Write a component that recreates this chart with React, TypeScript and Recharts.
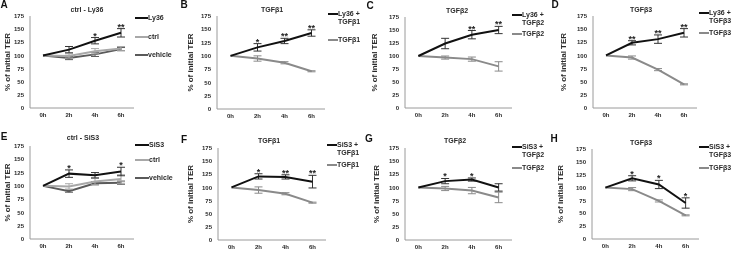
import React from 'react';
import { LineChart, Line, XAxis, YAxis, ErrorBar, LabelList } from 'recharts';

// ---------- data ----------
const timeLabels = ['0h', '2h', '4h', '6h'];
const yTicks = [0, 25, 50, 75, 100, 125, 150, 175];

// A: ctrl - Ly36
const aLy36 = [100, 111, 128, 143];
const aLy36Err = [null, 6, 6, 8];
const aLy36Sig = ['', '', '*', '**'];
const aCtrl = [100, 99, 108, 113];
const aCtrlErr = [null, 4, 5, 4];
const aVehicle = [100, 95, 102, 112];
const aVehicleErr = [null, 3, 4, 3];

// B: TGFβ1 (Ly36)
const bLy36T1 = [100, 116, 128, 143];
const bLy36T1Err = [null, 7, 5, 6];
const bLy36T1Sig = ['', '*', '**', '**'];
const bT1 = [100, 95, 87, 71];
const bT1Err = [null, 5, 2, 1];

// C: TGFβ2 (Ly36)
const cLy36T2 = [100, 124, 141, 150];
const cLy36T2Err = [null, 10, 8, 7];
const cLy36T2Sig = ['', '', '**', '**'];
const cT2 = [100, 97, 94, 80];
const cT2Err = [null, 3, 4, 9];

// D: TGFβ3 (Ly36)
const dLy36T3 = [100, 124, 131, 143];
const dLy36T3Err = [null, 4, 8, 8];
const dLy36T3Sig = ['', '**', '**', '**'];
const dT3 = [100, 96, 73, 45];
const dT3Err = [null, 3, 2, 1];

// E: ctrl - SiS3
const eSiS3 = [100, 123, 120, 127];
const eSiS3Err = [null, 7, 5, 8];
const eSiS3Sig = ['', '*', '', '*'];
const eCtrl = [100, 99, 108, 113];
const eCtrlErr = [null, 5, 6, 8];
const eVehicle = [100, 90, 105, 106];
const eVehicleErr = [null, 2, 3, 3];

// F: TGFβ1 (SiS3)
const fSiS3T1 = [100, 121, 120, 111];
const fSiS3T1Err = [null, 5, 4, 12];
const fSiS3T1Sig = ['', '*', '**', '**'];
const fT1 = [100, 95, 88, 71];
const fT1Err = [null, 6, 2, 1];

// G: TGFβ2 (SiS3)
const gSiS3T2 = [100, 112, 115, 100];
const gSiS3T2Err = [null, 5, 3, 7];
const gSiS3T2Sig = ['', '*', '*', ''];
const gT2 = [100, 98, 94, 81];
const gT2Err = [null, 4, 6, 10];

// H: TGFβ3 (SiS3)
const hSiS3T3 = [100, 118, 106, 70];
const hSiS3T3Err = [null, 5, 8, 10];
const hSiS3T3Sig = ['', '*', '*', '*'];
const hT3 = [100, 97, 74, 46];
const hT3Err = [null, 3, 2, 1];

// ---------- styles ----------
const FONT = '"Liberation Sans", Arial, sans-serif';
const BLACK = '#111111';
const GRAY = '#8a8a8a';
const LIGHT = '#a8a8a8';
const DARK = '#5a5a5a';
const AXIS = '#9a9a9a';
const TEXT = '#2a2a2a';

type Series = {
  name: string;
  values: number[];
  errors: (number | null)[];
  color: string;
  sig?: string[];
};

type Panel = {
  letter: string;
  title: string;
  axisX: number;
  plotTop: number;
  plotW: number;
  plotH: number;
  labelX: number;
  letterPos: [number, number];
  titlePos: [number, number];
  legendX: number;
  legendYs: number[];
  legendLine: number;
  series: Series[];
};

const panels: Panel[] = [
  {
    letter: 'A', title: 'ctrl - Ly36', axisX: 30, plotTop: 16, plotW: 104, plotH: 92, labelX: 7,
    letterPos: [4, 5], titlePos: [87, 9], legendX: 135, legendYs: [18, 37, 55], legendLine: 13,
    series: [
      { name: 'Ly36', values: aLy36, errors: aLy36Err, color: BLACK, sig: aLy36Sig },
      { name: 'ctrl', values: aCtrl, errors: aCtrlErr, color: LIGHT },
      { name: 'vehicle', values: aVehicle, errors: aVehicleErr, color: DARK },
    ],
  },
  {
    letter: 'B', title: 'TGFβ1', axisX: 217, plotTop: 16, plotW: 108, plotH: 93, labelX: 190,
    letterPos: [184, 5], titlePos: [272, 9], legendX: 328, legendYs: [14, 40], legendLine: 10,
    series: [
      { name: 'Ly36 +\nTGFβ1', values: bLy36T1, errors: bLy36T1Err, color: BLACK, sig: bLy36T1Sig },
      { name: 'TGFβ1', values: bT1, errors: bT1Err, color: GRAY },
    ],
  },
  {
    letter: 'C', title: 'TGFβ2', axisX: 405, plotTop: 17, plotW: 107, plotH: 91, labelX: 374,
    letterPos: [370, 6], titlePos: [457, 10], legendX: 512, legendYs: [15, 34], legendLine: 10,
    series: [
      { name: 'Ly36 +\nTGFβ2', values: cLy36T2, errors: cLy36T2Err, color: BLACK, sig: cLy36T2Sig },
      { name: 'TGFβ2', values: cT2, errors: cT2Err, color: GRAY },
    ],
  },
  {
    letter: 'D', title: 'TGFβ3', axisX: 593, plotTop: 16, plotW: 104, plotH: 92, labelX: 563,
    letterPos: [555, 5], titlePos: [641, 9], legendX: 699, legendYs: [13, 33], legendLine: 10,
    series: [
      { name: 'Ly36 +\nTGFβ3', values: dLy36T3, errors: dLy36T3Err, color: BLACK, sig: dLy36T3Sig },
      { name: 'TGFβ3', values: dT3, errors: dT3Err, color: GRAY },
    ],
  },
  {
    letter: 'E', title: 'ctrl - SiS3', axisX: 30, plotTop: 146, plotW: 104, plotH: 93, labelX: 7,
    letterPos: [4, 137], titlePos: [83, 137], legendX: 135, legendYs: [145, 160, 178], legendLine: 14,
    series: [
      { name: 'SiS3', values: eSiS3, errors: eSiS3Err, color: BLACK, sig: eSiS3Sig },
      { name: 'ctrl', values: eCtrl, errors: eCtrlErr, color: LIGHT },
      { name: 'vehicle', values: eVehicle, errors: eVehicleErr, color: DARK },
    ],
  },
  {
    letter: 'F', title: 'TGFβ1', axisX: 218, plotTop: 148, plotW: 108, plotH: 92, labelX: 190,
    letterPos: [184, 140], titlePos: [269, 140], legendX: 327, legendYs: [145, 165], legendLine: 10,
    series: [
      { name: 'SiS3 +\nTGFβ1', values: fSiS3T1, errors: fSiS3T1Err, color: BLACK, sig: fSiS3T1Sig },
      { name: 'TGFβ1', values: fT1, errors: fT1Err, color: GRAY },
    ],
  },
  {
    letter: 'G', title: 'TGFβ2', axisX: 405, plotTop: 148, plotW: 107, plotH: 92, labelX: 376,
    letterPos: [369, 139], titlePos: [455, 140], legendX: 512, legendYs: [147, 168], legendLine: 10,
    series: [
      { name: 'SiS3 +\nTGFβ2', values: gSiS3T2, errors: gSiS3T2Err, color: BLACK, sig: gSiS3T2Sig },
      { name: 'TGFβ2', values: gT2, errors: gT2Err, color: GRAY },
    ],
  },
  {
    letter: 'H', title: 'TGFβ3', axisX: 592, plotTop: 149, plotW: 107, plotH: 90, labelX: 560,
    letterPos: [554, 139], titlePos: [641, 142], legendX: 699, legendYs: [147, 168], legendLine: 10,
    series: [
      { name: 'SiS3 +\nTGFβ3', values: hSiS3T3, errors: hSiS3T3Err, color: BLACK, sig: hSiS3T3Sig },
      { name: 'TGFβ3', values: hT3, errors: hT3Err, color: GRAY },
    ],
  },
];

const Y_AXIS_W = 44;
const M_TOP = 10;
const M_RIGHT = 4;
const X_AXIS_H = 14;
const M_BOTTOM = 4;

function buildRows(p: Panel) {
  return timeLabels.map((t, i) => {
    const row: Record<string, any> = { x: i, label: t };
    p.series.forEach((s, k) => {
      row[`s${k}`] = s.values[i];
      row[`e${k}`] = s.errors[i];
      if (s.sig) {
        row[`sig${k}`] = s.sig[i];
        row[`star${k}`] = s.values[i] + (s.errors[i] ?? 0);
      }
    });
    return row;
  });
}

const htmlText: React.CSSProperties = {
  position: 'absolute',
  lineHeight: 1,
  whiteSpace: 'nowrap',
  fontFamily: FONT,
  fontWeight: 700,
  color: TEXT,
  willChange: 'transform',
};

function PanelChart({ p }: { p: Panel }) {
  const rows = buildRows(p);
  const width = Y_AXIS_W + p.plotW + M_RIGHT;
  const height = M_TOP + p.plotH + X_AXIS_H + M_BOTTOM;
  const left = p.axisX - Y_AXIS_W;
  const top = p.plotTop - M_TOP;
  const centered: React.CSSProperties = { ...htmlText, transform: 'translate(-50%, -50%) translateZ(0)' };
  return (
    <>
      <div style={{ ...centered, left: p.letterPos[0], top: p.letterPos[1], fontSize: 10, color: '#111' }}>
        {p.letter}
      </div>
      <div style={{ ...centered, left: p.titlePos[0], top: p.titlePos[1], fontSize: 7 }}>{p.title}</div>
      <div style={{ position: 'absolute', left, top }}>
        <LineChart
          width={width}
          height={height}
          data={rows}
          margin={{ top: M_TOP, right: M_RIGHT, bottom: M_BOTTOM, left: 0 }}
        >
          <XAxis
            dataKey="x"
            type="number"
            domain={[-0.5, 3.5]}
            ticks={[0, 1, 2, 3]}
            tickFormatter={(v: number) => timeLabels[v] ?? ''}
            height={X_AXIS_H}
            tickLine={false}
            tickSize={3}
            tickMargin={2}
            axisLine={{ stroke: AXIS, strokeWidth: 1 }}
            tick={{ fontSize: 6, fill: TEXT, fontWeight: 700, fontFamily: FONT }}
            interval={0}
          />
          <YAxis
            type="number"
            domain={[0, 175]}
            ticks={yTicks}
            width={Y_AXIS_W}
            tickLine={false}
            tickSize={4}
            tickMargin={2}
            interval={0}
            axisLine={{ stroke: AXIS, strokeWidth: 1 }}
            tick={{ fontSize: 6, fill: TEXT, fontWeight: 700, fontFamily: FONT }}
            label={{
              value: '% of initial TER',
              angle: -90,
              position: 'insideLeft',
              offset: p.labelX - left,
              style: { textAnchor: 'middle', fontSize: 8, fontWeight: 700, fill: TEXT, fontFamily: FONT },
            }}
          />
          {p.series
            .map((s, k) => (
              <Line
                key={`l${k}`}
                dataKey={`s${k}`}
                stroke={s.color}
                strokeWidth={2}
                dot={false}
                activeDot={false}
                isAnimationActive={false}
              >
                <ErrorBar dataKey={`e${k}`} width={4} stroke={s.color === BLACK ? '#333' : s.color} strokeWidth={1} />
              </Line>
            ))
            .reverse()}
          {p.series.map((s, k) =>
            s.sig ? (
              <Line
                key={`st${k}`}
                dataKey={`star${k}`}
                stroke="none"
                dot={false}
                activeDot={false}
                isAnimationActive={false}
              >
                <LabelList
                  dataKey={`sig${k}`}
                  position="top"
                  offset={-1}
                  style={{ fontSize: 9, fontWeight: 700, fill: '#222', fontFamily: FONT }}
                />
              </Line>
            ) : null
          )}
        </LineChart>
      </div>
      {p.series.map((s, k) => (
        <div
          key={`lg${k}`}
          style={{
            ...htmlText,
            left: p.legendX,
            top: p.legendYs[k] - 4,
            display: 'flex',
            alignItems: 'flex-start',
            fontSize: 7,
            lineHeight: '8px',
            transform: 'translateZ(0)',
          }}
        >
          <div style={{ width: p.legendLine, height: 2, background: s.color, marginTop: 3 }} />
          <div style={{ whiteSpace: 'pre' }}>{s.name}</div>
        </div>
      ))}
    </>
  );
}

export default function App() {
  return (
    <div style={{ position: 'absolute', left: 0, top: 0, width: 739, height: 257, background: '#fff', overflow: 'hidden' }}>
      {panels.map((p) => (
        <PanelChart key={p.letter} p={p} />
      ))}
    </div>
  );
}
